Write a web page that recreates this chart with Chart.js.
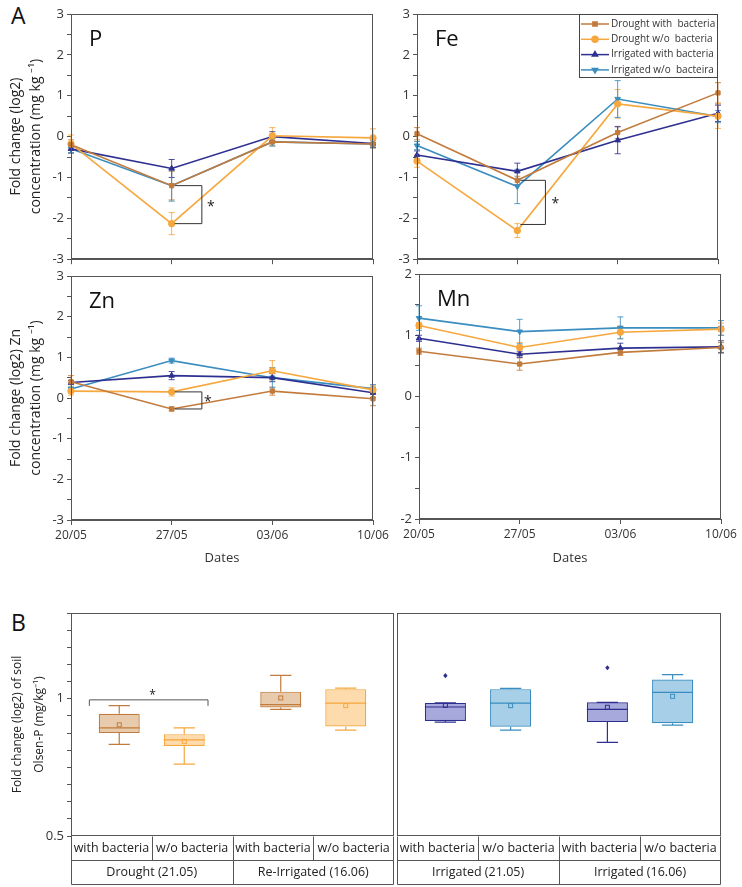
<!DOCTYPE html>
<html><head><meta charset="utf-8">
<script src="https://cdn.jsdelivr.net/npm/chart.js@4.4.0/dist/chart.umd.min.js"></script>
<style>
body{margin:0;background:#fff;width:742px;height:887px;position:relative;overflow:hidden;font-family:'Open Sans',sans-serif;}
.pnl{position:absolute;}
.big{position:absolute;font-size:23px;color:#111;line-height:1;}
</style></head><body>
<div class="big" style="left:11px;top:4px">A</div>
<div class="big" style="left:11px;top:611px">B</div>
<div class="pnl" style="left:0;top:0;width:380px;height:270px"><canvas id="cP"></canvas></div>
<div class="pnl" style="left:380px;top:0;width:362px;height:270px"><canvas id="cFe"></canvas></div>
<div class="pnl" style="left:0;top:262px;width:400px;height:310px"><canvas id="cZn"></canvas></div>
<div class="pnl" style="left:380px;top:262px;width:362px;height:310px"><canvas id="cMn"></canvas></div>
<div class="pnl" style="left:0;top:600px;width:396px;height:287px"><canvas id="cB1"></canvas></div>
<div class="pnl" style="left:396px;top:600px;width:346px;height:287px"><canvas id="cB2"></canvas></div>
<script>
// ---------- DATA ----------
const dates = ['20/05', '27/05', '03/06', '10/06'];
const seriesNames = ['Drought with  bacteria', 'Drought w/o  bacteria', 'Irrigated with bacteria', 'Irrigated w/o  bacteira'];

// P
const pDroughtWith   = [-0.20, -1.20, -0.13, -0.18];
const pDroughtWo     = [-0.18, -2.13,  0.02, -0.03];
const pIrrigWith     = [-0.30, -0.78,  0.00, -0.17];
const pIrrigWo       = [-0.30, -1.20, -0.13, -0.18];
const pDroughtWithErr = [0.12, 0.35, 0.10, 0.10];
const pDroughtWoErr   = [0.22, 0.27, 0.20, 0.22];
const pIrrigWithErr   = [0.10, 0.22, 0.12, 0.10];
const pIrrigWoErr     = [0.10, 0.38, 0.10, 0.08];

// Fe
const feDroughtWith  = [ 0.07, -1.07,  0.10, 1.07];
const feDroughtWo    = [-0.60, -2.30,  0.80, 0.50];
const feIrrigWith    = [-0.45, -0.85, -0.09, 0.57];
const feIrrigWo      = [-0.22, -1.22,  0.92, 0.49];
const feDroughtWithErr = [0.15, 0.10, 0.15, 0.25];
const feDroughtWoErr   = [0.15, 0.17, 0.35, 0.30];
const feIrrigWithErr   = [0.10, 0.20, 0.33, 0.20];
const feIrrigWoErr     = [0.10, 0.42, 0.45, 0.15];

// Zn
const znDroughtWith  = [0.40, -0.27, 0.17, -0.02];
const znDroughtWo    = [0.17,  0.15, 0.67,  0.20];
const znIrrigWith    = [0.38,  0.55, 0.50,  0.13];
const znIrrigWo      = [0.22,  0.92, 0.50,  0.23];
const znDroughtWithErr = [0.15, 0.05, 0.10, 0.17];
const znDroughtWoErr   = [0.10, 0.10, 0.25, 0.10];
const znIrrigWithErr   = [0.05, 0.10, 0.10, 0.12];
const znIrrigWoErr     = [0.05, 0.06, 0.25, 0.10];

// Mn
const mnDroughtWith  = [0.74, 0.53, 0.72, 0.80];
const mnDroughtWo    = [1.16, 0.80, 1.05, 1.10];
const mnIrrigWith    = [0.95, 0.69, 0.79, 0.81];
const mnIrrigWo      = [1.28, 1.06, 1.12, 1.12];
const mnDroughtWithErr = [0.05, 0.10, 0.05, 0.08];
const mnDroughtWoErr   = [0.05, 0.08, 0.10, 0.10];
const mnIrrigWithErr   = [0.05, 0.05, 0.08, 0.10];
const mnIrrigWoErr     = [0.20, 0.20, 0.18, 0.12];

// B: box stats per group: [min, q1, median, q3, max, mean]
const boxSubLabels = ['with bacteria', 'w/o bacteria'];
const boxGroupsLeft = ['Drought (21.05)', 'Re-Irrigated (16.06)'];
const boxGroupsRight = ['Irrigated (21.05)', 'Irrigated (16.06)'];
const droughtWithBox = [[0.834, 0.875, 0.894, 0.945, 0.975, 0.905], [0.961, 0.968, 0.979, 1.026, 1.085, 1.003]];
const droughtWoBox   = [[0.762, 0.828, 0.850, 0.871, 0.894, 0.845], [0.886, 0.899, 0.984, 1.035, 1.039, 0.975]];
const irrigWithBox   = [[0.915, 0.919, 0.970, 0.985, 0.985, 0.976], [0.841, 0.915, 0.961, 0.987, 0.987, 0.969]];
const irrigWoBox     = [[0.886, 0.898, 0.984, 1.035, 1.038, 0.975], [0.904, 0.911, 1.023, 1.070, 1.088, 1.009]];
const irrigWithOutliers = [[1.084], [1.113]];
const bYTickValues = [0.5, 0.5625, 0.625, 0.6875, 0.75, 0.8125, 0.875, 0.9375, 1, 1.0625, 1.125, 1.1875, 1.25, 1.3125];
const bYLabels = [0.5, 1];

// ---------- STYLE ----------
const C = {dWith:'#c27b3c', dWo:'#f6a73e', iWith:'#2e3091', iWo:'#3a8dbf'};
const AX = '#555';
const FONT = "'Open Sans', sans-serif";

const frame = {
  id:'frame',
  afterDraw(chart){
    const {ctx, chartArea:a} = chart;
    ctx.save(); ctx.strokeStyle = AX; ctx.lineWidth = 1;
    ctx.strokeRect(Math.round(a.left)+0.5, Math.round(a.top)+0.5, Math.round(a.right-a.left)-1, Math.round(a.bottom-a.top)-1);
    ctx.restore();
  }
};

const errorBars = {
  id:'errorBars',
  beforeDatasetsDraw(chart){
    const {ctx} = chart; const y = chart.scales.y;
    chart.data.datasets.forEach((ds, i) => {
      if (!ds.errors) return;
      const meta = chart.getDatasetMeta(i);
      ctx.save(); ctx.strokeStyle = ds.borderColor; ctx.lineWidth = 1; ctx.globalAlpha = 0.85;
      meta.data.forEach((pt, j) => {
        const e = ds.errors[j], v = ds.data[j];
        const yt = y.getPixelForValue(v + e), yb = y.getPixelForValue(v - e), x = pt.x;
        ctx.beginPath();
        ctx.moveTo(x, yt); ctx.lineTo(x, yb);
        ctx.moveTo(x-3, yt); ctx.lineTo(x+3, yt);
        ctx.moveTo(x-3, yb); ctx.lineTo(x+3, yb);
        ctx.stroke();
      });
      ctx.restore();
    });
  }
};

const annot = {
  id:'annot',
  afterDraw(chart, args, o){
    const {ctx, chartArea:a} = chart;
    ctx.save();
    if (o.title) {
      ctx.fillStyle = '#111'; ctx.font = '22px ' + FONT; ctx.textBaseline = 'alphabetic';
      ctx.fillText(o.title, a.left + 18, a.top + 32);
    }
    if (o.bracket) {
      const b = o.bracket, xs = chart.scales.x, ys = chart.scales.y;
      const x0 = xs.getPixelForValue(b.cat), step = xs.getPixelForValue(b.cat + 1) - x0;
      const xa = x0 + step * 0.03, xb = x0 + step * b.end;
      const y1 = ys.getPixelForValue(b.y1), y2 = ys.getPixelForValue(b.y2);
      ctx.strokeStyle = '#333'; ctx.lineWidth = 1;
      ctx.beginPath(); ctx.moveTo(xa, y1); ctx.lineTo(xb, y1); ctx.lineTo(xb, y2); ctx.lineTo(xa, y2); ctx.stroke();
      ctx.fillStyle = '#222'; ctx.font = '14px ' + FONT; ctx.textAlign = 'center'; ctx.textBaseline = 'middle';
      ctx.fillText('*', x0 + step * b.star, (y1 + y2) / 2 + 2);
    }
    if (o.legend) {
      const w = 139, h = 64, x0 = a.right - w, y0 = a.top;
      ctx.fillStyle = '#fff'; ctx.fillRect(x0, y0, w, h);
      ctx.strokeStyle = '#444'; ctx.lineWidth = 1; ctx.strokeRect(x0 + 0.5, y0 + 0.5, w - 1, h - 1);
      chart.data.datasets.forEach((ds, i) => {
        const yy = y0 + 10 + i * 15.3;
        ctx.strokeStyle = ds.borderColor; ctx.lineWidth = 1.5;
        ctx.beginPath(); ctx.moveTo(x0 + 2, yy); ctx.lineTo(x0 + 30, yy); ctx.stroke();
        ctx.fillStyle = ds.borderColor;
        Chart.helpers.drawPoint(ctx, {pointStyle: ds.pointStyle, rotation: ds.pointRotation || 0, radius: 3, borderWidth: 1}, x0 + 16, yy);
        ctx.fillStyle = '#333'; ctx.font = '10px ' + FONT; ctx.textBaseline = 'middle'; ctx.textAlign = 'left';
        ctx.fillText(ds.label, x0 + 32, yy);
      });
    }
    ctx.restore();
  }
};

function lineDs(label, data, err, color, style, rot){
  return {label, data, errors: err, borderColor: color, backgroundColor: color, borderWidth: 1.6,
    pointStyle: style, pointRotation: rot || 0, pointRadius: style === 'rect' ? 3 : 3.2, pointBorderWidth: 1,
    tension: 0, clip: false};
}

function makeLine(id, sets, o){
  new Chart(document.getElementById(id), {
    type: 'line',
    data: {labels: dates, datasets: [
      lineDs(seriesNames[0], sets[0], sets[4], C.dWith, 'rect'),
      lineDs(seriesNames[1], sets[1], sets[5], C.dWo, 'circle'),
      lineDs(seriesNames[2], sets[2], sets[6], C.iWith, 'triangle'),
      lineDs(seriesNames[3], sets[3], sets[7], C.iWo, 'triangle', 180)
    ]},
    options: {
      responsive: true, maintainAspectRatio: false, animation: false, devicePixelRatio: 1,
      layout: {padding: o.pad},
      plugins: {legend: {display: false}, tooltip: {enabled: false}, annot: {title: o.title, bracket: o.bracket, legend: o.legend}},
      scales: {
        x: {type: 'category', offset: false,
          grid: {drawOnChartArea: false, tickLength: 5, color: AX}, border: {color: AX},
          ticks: {display: o.xLabels, font: {family: FONT, size: 12}, color: '#333', padding: 3, maxRotation: 0, autoSkip: false},
          title: {display: o.xLabels, text: 'Dates', font: {family: FONT, size: 13}, color: '#333', padding: {top: 0, bottom: 6}},
          afterFit: s => { s.height = o.xH; }
        },
        y: {min: o.ymin, max: o.ymax,
          grid: {drawOnChartArea: false, tickLength: 4, color: AX}, border: {color: AX},
          ticks: {stepSize: 0.5, autoSkip: false, font: {family: FONT, size: 13}, color: '#333', padding: 3,
            callback: v => Number.isInteger(v) ? String(v) : ''},
          title: {display: !!o.yTitle, text: o.yTitle, font: {family: FONT, size: 14, lineHeight: 1.43}, color: '#222', padding: {top: 6, bottom: 0}},
          afterFit: s => { s.width = o.yW; }
        }
      }
    },
    plugins: [errorBars, frame, annot]
  });
}

makeLine('cP', [pDroughtWith, pDroughtWo, pIrrigWith, pIrrigWo, pDroughtWithErr, pDroughtWoErr, pIrrigWithErr, pIrrigWoErr],
  {pad: {top: 14, right: 7, left: 0, bottom: 0}, xH: 10, yW: 71, ymin: -3, ymax: 3, xLabels: false, title: 'P',
   yTitle: ['Fold change (log2)', 'concentration (mg kg \u207B\u00B9)'],
   bracket: {cat: 1, y1: -1.2, y2: -2.13, end: 0.3, star: 0.39}});
makeLine('cFe', [feDroughtWith, feDroughtWo, feIrrigWith, feIrrigWo, feDroughtWithErr, feDroughtWoErr, feIrrigWithErr, feIrrigWoErr],
  {pad: {top: 14, right: 24, left: 0, bottom: 0}, xH: 10, yW: 37, ymin: -3, ymax: 3, xLabels: false, title: 'Fe',
   bracket: {cat: 1, y1: -1.07, y2: -2.15, end: 0.28, star: 0.38}, legend: true});
makeLine('cZn', [znDroughtWith, znDroughtWo, znIrrigWith, znIrrigWo, znDroughtWithErr, znDroughtWoErr, znIrrigWithErr, znIrrigWoErr],
  {pad: {top: 14, right: 27, left: 0, bottom: 0}, xH: 52, yW: 71, ymin: -3, ymax: 3, xLabels: true, title: 'Zn',
   yTitle: ['Fold change (log2) Zn', 'concentration (mg kg \u207B\u00B9)'],
   bracket: {cat: 1, y1: 0.15, y2: -0.27, end: 0.3, star: 0.36}});
makeLine('cMn', [mnDroughtWith, mnDroughtWo, mnIrrigWith, mnIrrigWo, mnDroughtWithErr, mnDroughtWoErr, mnIrrigWithErr, mnIrrigWoErr],
  {pad: {top: 12, right: 21, left: 0, bottom: 0}, xH: 53, yW: 39, ymin: -2, ymax: 2, xLabels: true, title: 'Mn'});

// ---------- BOX PLOTS ----------
const boxes = {
  id:'boxes',
  afterDatasetsDraw(chart){
    const {ctx} = chart; const y = chart.scales.y; const py = v => y.getPixelForValue(v);
    chart.data.datasets.forEach((ds, i) => {
      const meta = chart.getDatasetMeta(i);
      meta.data.forEach((bar, j) => {
        const s = ds.stats[j], x = bar.x, w = bar.width, cw = w * 0.26;
        ctx.save(); ctx.strokeStyle = ds.borderColor; ctx.lineWidth = 1.2;
        ctx.beginPath();
        ctx.moveTo(x, py(s[3])); ctx.lineTo(x, py(s[4]));
        ctx.moveTo(x, py(s[1])); ctx.lineTo(x, py(s[0]));
        ctx.moveTo(x - cw, py(s[4])); ctx.lineTo(x + cw, py(s[4]));
        ctx.moveTo(x - cw, py(s[0])); ctx.lineTo(x + cw, py(s[0]));
        ctx.moveTo(x - w / 2, py(s[2])); ctx.lineTo(x + w / 2, py(s[2]));
        ctx.stroke();
        ctx.lineWidth = 1;
        ctx.strokeRect(x - 2, py(s[5]) - 2, 4, 4);
        if (ds.outliers) (ds.outliers[j] || []).forEach(v => {
          ctx.fillStyle = ds.borderColor; ctx.beginPath();
          ctx.moveTo(x, py(v) - 2.6); ctx.lineTo(x + 2.2, py(v)); ctx.lineTo(x, py(v) + 2.6); ctx.lineTo(x - 2.2, py(v)); ctx.closePath(); ctx.fill();
        });
        ctx.restore();
      });
    });
  },
  afterDraw(chart, args, o){
    const {ctx, chartArea:a} = chart;
    ctx.save();
    ctx.strokeStyle = AX; ctx.lineWidth = 1;
    const top = Math.round(a.bottom) + 0.5, mid = top + 24, bot = top + 48;
    const L = Math.round(a.left) + 0.5, R = Math.round(a.right) - 0.5;
    ctx.beginPath();
    ctx.moveTo(L, top); ctx.lineTo(L, bot); ctx.lineTo(R, bot); ctx.lineTo(R, top);
    ctx.moveTo(L, mid); ctx.lineTo(R, mid);
    const n = chart.data.labels.length, gw = (a.right - a.left) / n;
    for (let g = 0; g < n; g++) {
      const gl = a.left + g * gw;
      if (g > 0) { ctx.moveTo(Math.round(gl) + 0.5, top); ctx.lineTo(Math.round(gl) + 0.5, bot); }
      ctx.moveTo(Math.round(gl + gw / 2) + 0.5, top); ctx.lineTo(Math.round(gl + gw / 2) + 0.5, mid);
    }
    ctx.stroke();
    ctx.fillStyle = '#222'; ctx.textAlign = 'center'; ctx.textBaseline = 'middle'; ctx.font = '12.5px ' + FONT;
    for (let g = 0; g < n; g++) {
      const gl = a.left + g * gw;
      chart.data.datasets.forEach((ds, k) => ctx.fillText(ds.label, gl + gw / 4 + k * gw / 2, top + 12));
      ctx.fillText(chart.data.labels[g], gl + gw / 2, mid + 12);
    }
    if (o.bracket) {
      const m0 = chart.getDatasetMeta(0).data[0], m1 = chart.getDatasetMeta(1).data[0];
      const yb = chart.scales.y.getPixelForValue(o.bracket.y);
      const xa = m0.x - m0.width * 0.73, xb = m1.x + m1.width * 0.58;
      ctx.strokeStyle = '#555'; ctx.beginPath();
      ctx.moveTo(xa, yb + 6); ctx.lineTo(xa, yb); ctx.lineTo(xb, yb); ctx.lineTo(xb, yb + 6); ctx.stroke();
      ctx.fillStyle = '#222'; ctx.font = '12px ' + FONT;
      ctx.fillText('*', (xa + xb) / 2 + 4, yb - 4);
    }
    ctx.restore();
  }
};

function boxDs(label, stats, fill, border, outliers){
  return {label, data: stats.map(s => [s[1], s[3]]), stats, outliers, backgroundColor: fill, borderColor: border,
    borderWidth: 1.2, borderSkipped: false, categoryPercentage: 0.805, barPercentage: 0.63};
}

function makeBox(id, groups, dsets, o){
  new Chart(document.getElementById(id), {
    type: 'bar',
    data: {labels: groups, datasets: dsets},
    options: {
      responsive: true, maintainAspectRatio: false, animation: false, devicePixelRatio: 1,
      layout: {padding: o.pad},
      plugins: {legend: {display: false}, tooltip: {enabled: false}, boxes: {bracket: o.bracket}},
      scales: {
        x: {display: false},
        y: {display: o.yAxis, min: 0.5, max: 1.3125,
          afterBuildTicks: s => { s.ticks = bYTickValues.map(v => ({value: v})); },
          grid: {drawOnChartArea: false, tickLength: 4, color: AX}, border: {color: AX},
          ticks: {autoSkip: false, font: {family: FONT, size: 13}, color: '#333', padding: 3,
            callback: v => bYLabels.includes(v) ? String(v) : ''},
          title: {display: o.yAxis, text: ['Fold change (log2) of soil', 'Olsen-P (mg/kg\u207B\u00B9)'], font: {family: FONT, size: 12, lineHeight: 1.8}, color: '#222', padding: {top: 7, bottom: 0}},
          afterFit: s => { if (o.yAxis) s.width = 71; }
        }
      }
    },
    plugins: [frame, boxes]
  });
}

makeBox('cB1', boxGroupsLeft, [
  boxDs(boxSubLabels[0], droughtWithBox, 'rgba(214,160,104,0.55)', C.dWith),
  boxDs(boxSubLabels[1], droughtWoBox, 'rgba(253,200,128,0.65)', C.dWo)
], {pad: {top: 13, right: 2, left: 0, bottom: 51}, yAxis: true, bracket: {y: 0.996}});
makeBox('cB2', boxGroupsRight, [
  boxDs(boxSubLabels[0], irrigWithBox, 'rgba(120,122,200,0.65)', C.iWith, irrigWithOutliers),
  boxDs(boxSubLabels[1], irrigWoBox, 'rgba(120,182,220,0.65)', C.iWo)
], {pad: {top: 13, right: 21, left: 1, bottom: 51}, yAxis: false});
</script>
</body></html>
